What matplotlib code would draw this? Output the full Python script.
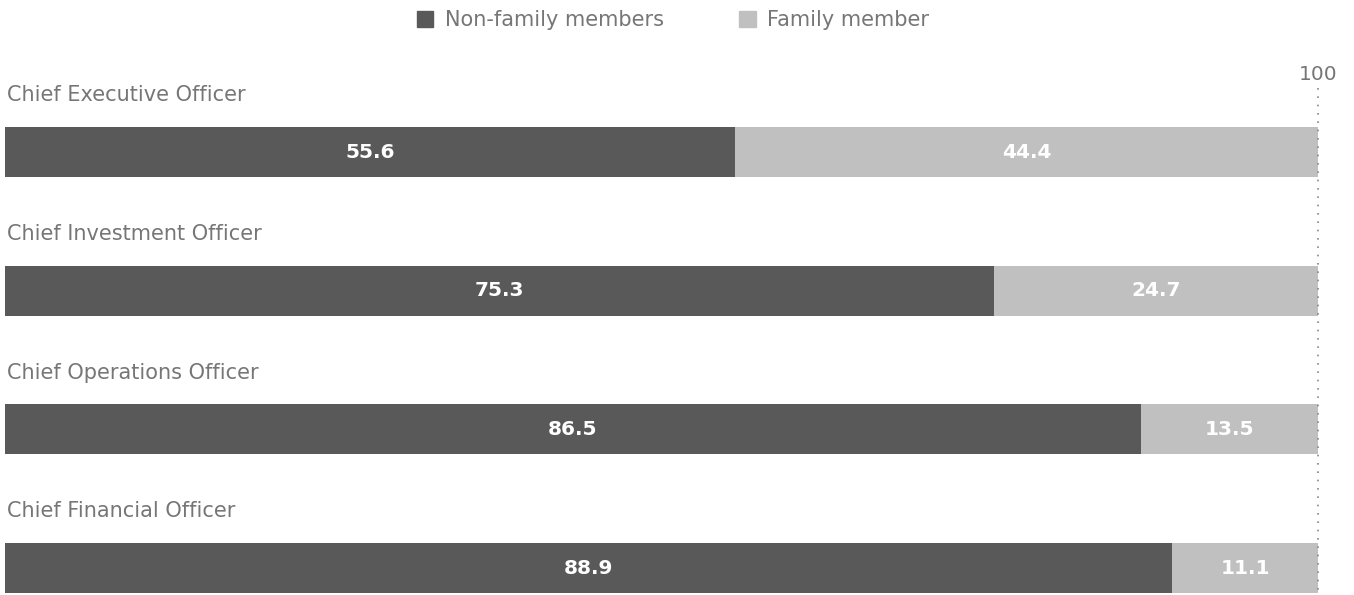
import matplotlib.pyplot as plt
from matplotlib.patches import Patch

# Share of roles held by non-family vs family members (%)
roles = ["Chief Executive Officer", "Chief Investment Officer",
         "Chief Operations Officer", "Chief Financial Officer"]
non_family = [55.6, 75.3, 86.5, 88.9]
family = [44.4, 24.7, 13.5, 11.1]
series_names = ["Non-family members", "Family member"]

dark = "#595959"
light = "#c0c0c0"
text_col = "#767676"
label_font = ["DejaVu Sans"]

fig = plt.figure(figsize=(13.54, 5.95), dpi=100)
ax = fig.add_axes([5 / 1354, 0, (1318 - 5) / 1354, 1])

pos = list(range(len(roles)))
ax.barh(pos, non_family, height=0.36, color=dark)
ax.barh(pos, family, left=non_family, height=0.36, color=light)

for i, (a, b) in enumerate(zip(non_family, family)):
    ax.text(a / 2, i, f"{a:.1f}", ha="center", va="center", family=label_font,
            color="white", fontsize=14.5, fontweight="bold")
    ax.text(a + b / 2, i, f"{b:.1f}", ha="center", va="center", family=label_font,
            color="white", fontsize=14.5, fontweight="bold")
    ax.text(0.15, i - 0.41, roles[i], ha="left", va="center", family=label_font,
            color=text_col, fontsize=15)

# dotted reference line at 100
ax.plot([100, 100], [-0.46, 3.2], color="#888888", lw=1.2,
        linestyle=(0, (1, 4)), clip_on=False)
ax.text(100, -0.56, "100", ha="center", va="center", family=label_font,
        color=text_col, fontsize=14.5)

ax.set_xlim(0, 100)
ax.set_ylim(3.194, -1.096)
ax.axis("off")

handles = [Patch(color=dark), Patch(color=light)]
fig.legend(handles, series_names, loc="center", bbox_to_anchor=(0.497, 0.966),
           ncol=2, frameon=False, prop={"family": label_font, "size": 15},
           handlelength=0.8, handleheight=0.8, handletextpad=0.55,
           columnspacing=3.6, labelcolor=text_col)

fig.savefig("out.png", dpi=100)
